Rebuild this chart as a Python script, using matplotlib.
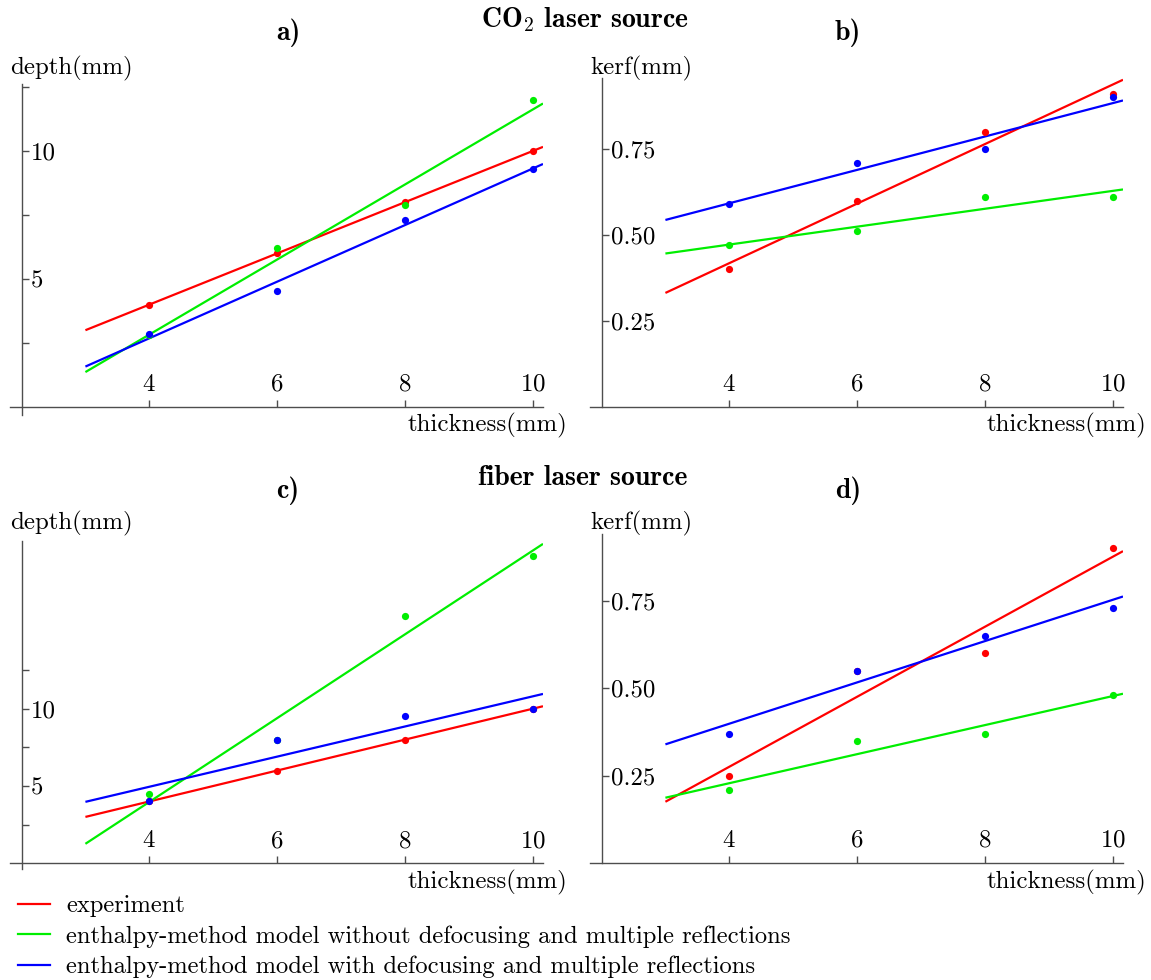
import numpy as np
import matplotlib
matplotlib.use("Agg")
import matplotlib.pyplot as plt
from matplotlib.lines import Line2D

plt.rcParams['font.family'] = ['cmr10', 'DejaVu Serif']
plt.rcParams['mathtext.fontset'] = 'cm'
plt.rcParams['axes.formatter.use_mathtext'] = True
plt.rcParams['axes.unicode_minus'] = False

W, H = 1151, 980
FS = 17.9
FS_LEGEND = 17.65
FS_TITLE = 20
AXIS_COLOR = '#4d4d4d'

# thickness (mm)
thickness = [4, 6, 8, 10]

# CO2 laser: depth (mm)
co2_depth_exp = [4.0, 6.0, 8.0, 10.0]
co2_depth_nodef = [2.8, 6.2, 7.9, 12.0]
co2_depth_def = [2.85, 4.55, 7.3, 9.3]

# CO2 laser: kerf (mm)
co2_kerf_exp = [0.40, 0.60, 0.80, 0.91]
co2_kerf_nodef = [0.47, 0.51, 0.61, 0.61]
co2_kerf_def = [0.59, 0.71, 0.75, 0.90]

# fiber laser: depth (mm)
fib_depth_exp = [4.0, 6.0, 8.0, 10.0]
fib_depth_nodef = [4.5, 8.0, 16.0, 19.9]
fib_depth_def = [4.0, 8.0, 9.5, 10.0]

# fiber laser: kerf (mm)
fib_kerf_exp = [0.25, 0.55, 0.60, 0.90]
fib_kerf_nodef = [0.21, 0.35, 0.37, 0.48]
fib_kerf_def = [0.37, 0.55, 0.65, 0.73]

labels = ["experiment",
          "enthalpy-method model without defocusing and multiple reflections",
          "enthalpy-method model with defocusing and multiple reflections"]
colors = ['#ff0000', '#00ee00', '#0000ff']

depth_ticks = [2.5, 5, 7.5, 10, 12.5]
depth_ticklabels = ['', '5', '', '10', '']
kerf_ticks = [0.25, 0.5, 0.75]
kerf_ticklabels = ['0.25', '0.50', '0.75']

XLIM = (1.82, 10.16)


def px_rect(left, top, right, bottom):
    return [left / W, 1 - bottom / H, (right - left) / W, (bottom - top) / H]


def draw_panel(ax, series, ylim, yticks, yticklabels):
    x = np.array(thickness, dtype=float)
    xfit = np.array([3.0, XLIM[1]])
    for ys, c in zip(series, colors):
        k, b = np.polyfit(x, ys, 1)
        ax.plot(xfit, k * xfit + b, color=c, lw=1.6, solid_capstyle='butt', zorder=2)
    for ys, c in zip(series, colors):
        ax.plot(x, ys, 'o', color=c, ms=5.2, mec='none', zorder=3)

    ax.set_xlim(*XLIM)
    ax.set_ylim(*ylim)
    for s in ['left', 'bottom']:
        ax.spines[s].set_visible(False)
    # axes cross at (2, 0) like the original
    ax.spines['right'].set_position(('data', 2))
    ax.spines['top'].set_position(('data', 0))
    for s in ['right', 'top']:
        ax.spines[s].set_color(AXIS_COLOR)
        ax.spines[s].set_linewidth(1.0)
    ax.yaxis.tick_right()
    ax.xaxis.tick_top()
    ax.set_xticks(thickness)
    ax.set_yticks(yticks, labels=yticklabels)
    ax.tick_params(axis='both', direction='out', length=5, width=1.0,
                   color=AXIS_COLOR, labelsize=FS, pad=2)
    ax.tick_params(axis='x', pad=3)
    ax.patch.set_alpha(0)


fig = plt.figure(figsize=(W / 100, H / 100), dpi=100)

ax_a = fig.add_axes(px_rect(10, 84.4, 543, 414.7))
draw_panel(ax_a, [co2_depth_exp, co2_depth_nodef, co2_depth_def],
           (-0.3, 12.6), depth_ticks, depth_ticklabels)

ax_b = fig.add_axes(px_rect(590, 78, 1123, 407))
draw_panel(ax_b, [co2_kerf_exp, co2_kerf_nodef, co2_kerf_def],
           (0, 0.956), kerf_ticks, kerf_ticklabels)

ax_c = fig.add_axes(px_rect(10, 541, 543, 869))
draw_panel(ax_c, [fib_depth_exp, fib_depth_nodef, fib_depth_def],
           (-0.37, 20.85), depth_ticks, depth_ticklabels)

ax_d = fig.add_axes(px_rect(590, 534, 1123, 863))
draw_panel(ax_d, [fib_kerf_exp, fib_kerf_nodef, fib_kerf_def],
           (0, 0.94), kerf_ticks, kerf_ticklabels)


def ftext(x, y, s, size=FS, **kw):
    fig.text(x / W, 1 - y / H, s, fontsize=size, **kw)


# axis names
ftext(10, 68, "depth(mm)", ha='left', va='center')
ftext(590, 68, "kerf(mm)", ha='left', va='center')
ftext(567, 425, "thickness(mm)", ha='right', va='center')
ftext(1146, 425, "thickness(mm)", ha='right', va='center')
ftext(10, 523, "depth(mm)", ha='left', va='center')
ftext(590, 523, "kerf(mm)", ha='left', va='center')
ftext(567, 882, "thickness(mm)", ha='right', va='center')
ftext(1146, 882, "thickness(mm)", ha='right', va='center')

# titles
ftext(585, 20, r"$\mathbf{CO_2}$ laser source", size=FS_TITLE, ha='center', va='center', family='cmb10')
ftext(288, 33, "a)", size=FS_TITLE, ha='center', va='center', family='cmb10')
ftext(848, 33, "b)", size=FS_TITLE, ha='center', va='center', family='cmb10')
ftext(583, 478, "fiber laser source", size=FS_TITLE, ha='center', va='center', family='cmb10')
ftext(288, 491, "c)", size=FS_TITLE, ha='center', va='center', family='cmb10')
ftext(848, 491, "d)", size=FS_TITLE, ha='center', va='center', family='cmb10')

handles = [Line2D([], [], color=c, lw=1.6) for c in colors]
fig.legend(handles, labels, loc='upper left', bbox_to_anchor=(18 / W, 1 - 895 / H),
           frameon=False, fontsize=FS_LEGEND, handlelength=1.3, handletextpad=0.66,
           labelspacing=0.33, borderpad=0, borderaxespad=0)

fig.savefig("out.png", dpi=100)
